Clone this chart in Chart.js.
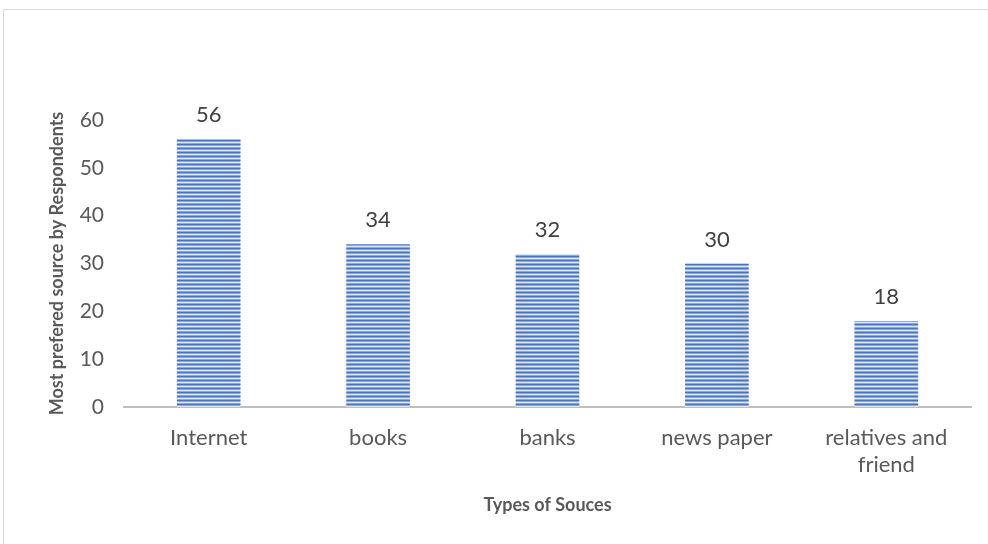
<!DOCTYPE html>
<html>
<head>
<meta charset="utf-8">
<script src="https://cdn.jsdelivr.net/npm/chart.js@4.4.0/dist/chart.umd.min.js"></script>
<style>
  body { margin: 0; background: #fff; }
  #wrap { position: relative; width: 988px; height: 544px; overflow: hidden; }
  #frame { position: absolute; left: 3px; top: 9px; width: 1000px; height: 600px; border: 1px solid #d9d9d9; }
  #chart { position: absolute; left: 0; top: 0; }
</style>
</head>
<body>
<div id="wrap">
  <div id="frame"></div>
  <canvas id="chart" width="988" height="544"></canvas>
</div>
<script>
var sources = ['Internet', 'books', 'banks', 'news paper', ['relatives and', 'friend']];
var respondents = [56, 34, 32, 30, 18];
var yTicks = [0, 10, 20, 30, 40, 50, 60];

// striped fill like the original
function stripes() {
  var c = document.createElement('canvas');
  c.width = 1; c.height = 4;
  var g = c.getContext('2d');
  var rows = ['#4472c4', '#8eaadb', '#dce6f5', '#8eaadb'];
  for (var i = 0; i < rows.length; i++) {
    g.fillStyle = rows[i];
    g.fillRect(0, i, 1, 1);
  }
  return g.createPattern(c, 'repeat');
}

var valueLabels = {
  id: 'valueLabels',
  afterDatasetsDraw: function(chart) {
    var ctx = chart.ctx;
    var meta = chart.getDatasetMeta(0);
    ctx.save();
    ctx.font = '22px Lato, "Open Sans", sans-serif';
    ctx.fillStyle = '#404040';
    ctx.textAlign = 'center';
    ctx.textBaseline = 'alphabetic';
    meta.data.forEach(function(bar, i) {
      ctx.fillText(respondents[i], bar.x, bar.y - 17);
    });
    ctx.restore();
  }
};

var ctx = document.getElementById('chart').getContext('2d');
var chart = new Chart(ctx, {
  type: 'bar',
  data: {
    labels: sources,
    datasets: [{
      data: respondents,
      backgroundColor: stripes(),
      borderWidth: 0,
      barPercentage: 0.5,
      categoryPercentage: 0.752
    }]
  },
  options: {
    responsive: false,
    animation: false,
    layout: { padding: { top: 120, right: 17, left: 0, bottom: 0 } },
    plugins: { legend: { display: false }, tooltip: { enabled: false } },
    scales: {
      x: {
        grid: { display: false, drawTicks: false },
        border: { color: '#bfbfbf', width: 2 },
        ticks: { color: '#595959', font: { family: 'Lato', size: 22 }, padding: 18, maxRotation: 0 },
        title: { display: true, text: 'Types of Souces', color: '#595959', font: { family: 'Lato', size: 18, weight: 'bold' }, padding: { top: 0, bottom: 28 } },
        afterFit: function(s) { s.height = 137; }
      },
      y: {
        min: 0, max: 60,
        afterBuildTicks: function(s) { s.ticks = yTicks.map(function(v) { return { value: v }; }); },
        grid: { display: false, drawTicks: false },
        border: { display: false },
        ticks: { color: '#595959', font: { family: 'Lato', size: 21 }, padding: 20 },
        title: { display: true, text: 'Most prefered source by Respondents', color: '#595959', font: { family: 'Lato', size: 18, weight: 'bold' }, padding: { top: 46 } },
        afterFit: function(s) { s.width = 124; }
      }
    }
  },
  plugins: [valueLabels]
});
</script>
</body>
</html>
